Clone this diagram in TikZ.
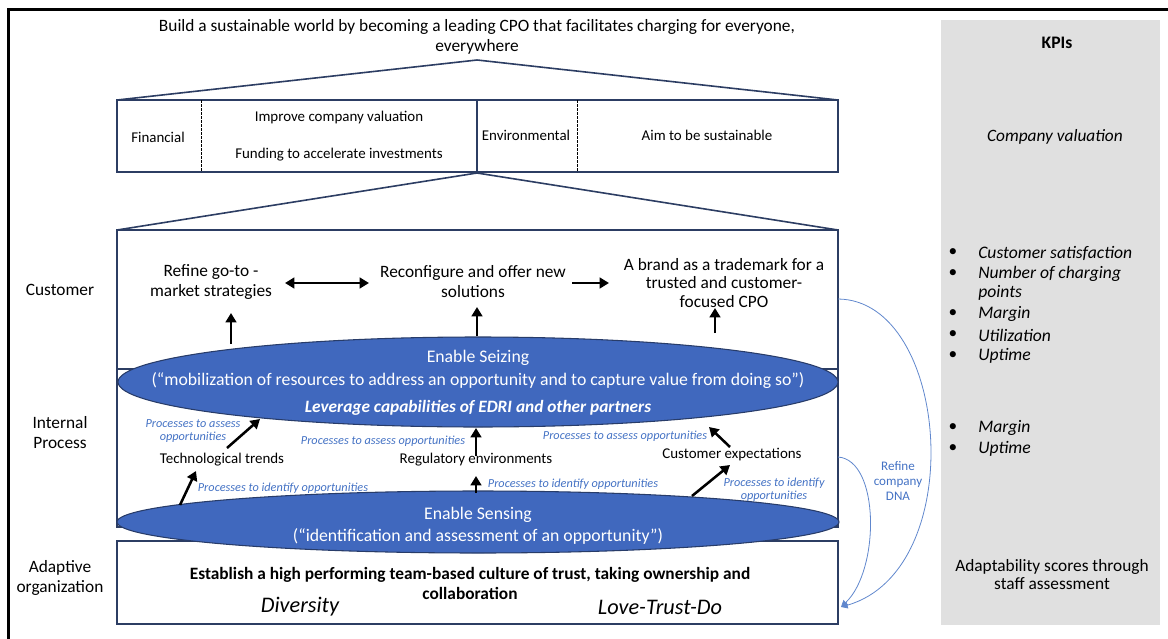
\documentclass[tikz,border=0pt]{standalone}
\usepackage{fontspec}
\setmainfont{Carlito}
\usetikzlibrary{shapes.geometric,arrows.meta}

\definecolor{navyline}{RGB}{44,61,99}
\definecolor{ovalblue}{RGB}{64,104,190}
\definecolor{ovaledge}{RGB}{40,60,105}
\definecolor{labelblue}{RGB}{68,114,196}
\definecolor{kpigray}{RGB}{224,224,224}

\begin{document}
\begin{tikzpicture}[x=0.75pt,y=0.75pt,yscale=-1,xscale=1,
  boxline/.style={draw=navyline, line width=1.2pt},
  oval/.style={ellipse, draw=ovaledge, line width=0.8pt, fill=ovalblue, inner sep=0pt},
  txt/.style={inner sep=0.75pt, align=center, font=\fontsize{13}{15}\selectfont},
  celltxt/.style={inner sep=0.75pt, align=center, font=\fontsize{11.2}{13}\selectfont},
  ovaltxt/.style={inner sep=0.75pt, align=center, text=white, font=\fontsize{13.3}{15}\selectfont},
  procnote/.style={inner sep=0.75pt, align=center, text=labelblue, font=\fontsize{9.2}{10}\selectfont\itshape},
  kpi/.style={inner sep=0.75pt, anchor=west, align=left, font=\fontsize{13.2}{14.3}\selectfont\itshape},
  bigarrow/.style={line width=1.9pt, -{Triangle[length=7pt,width=8pt]}},
  dnacurve/.style={draw=labelblue!85, line width=0.6pt, -{Triangle[length=5pt,width=5pt]}}
]
\useasboundingbox (0,0) rectangle (1168,639);

%Shape: Frame
\draw [line width=2.25pt] (8,640) -- (8,9) -- (1168,9) ;
%Shape: Rectangle KPI column
\fill [kpigray] (941,20) rectangle (1160,625) ;

% Text Node
\node (goal) at (477,37) [txt] {Build a sustainable world by becoming a leading CPO that facilitates charging for everyone,\\everywhere};

%Shape: Triangle roof top
\draw [boxline] (117,100) -- (477,60) -- (838,100) ;
%Shape: Rectangle financial / environmental
\draw [boxline] (117,100) rectangle (838,172) ;
\draw [dash pattern=on 2pt off 1pt, line width=0.5pt] (201,100) -- (201,172) ;
\draw [boxline] (477,100) -- (477,172) ;
\draw [dash pattern=on 2pt off 1pt, line width=0.5pt] (577,100) -- (577,172) ;

% Text Node
\node (financial) at (158,137) [celltxt] {Financial};
% Text Node
\node (valuation) at (339,118) [celltxt] {Improve company valuation};
% Text Node
\node (funding) at (339,155) [celltxt] {Funding to accelerate investments};
% Text Node
\node (environ) at (526,135) [celltxt] {Environmental};
% Text Node
\node (sustain) at (707,135) [celltxt] {Aim to be sustainable};

%Shape: Triangle roof bottom
\draw [boxline] (117,230) -- (477,173) -- (838,230) ;
%Shape: Rectangle customer
\draw [boxline] (117,230) rectangle (838,369) ;
%Shape: Rectangle internal process
\draw [boxline] (117,369) rectangle (838,527) ;
%Shape: Rectangle adaptive organization
\draw [boxline] (117,541) rectangle (838,624) ;

% Row labels
\node (lblcust) at (60,290) [txt] {Customer};
\node (lblproc) at (60,433) [txt] {Internal\\Process};
\node (lbladapt) at (60,578) [txt] {Adaptive\\organization};

% Text Node
\node (refine) at (211,282) [txt] {Refine go-to -\\market strategies};
% Text Node
\node (reconfig) at (473,282) [txt] {Reconfigure and offer new\\solutions};
% Text Node
\node (brand) at (724,283) [txt, font=\fontsize{13}{14}\selectfont] {A brand as a trademark for a\\trusted and customer-\\focused CPO};

\coordinate (dblL) at (285,283);
\coordinate (dblR) at (369,283);
\coordinate (toBrandL) at (572,283);
\coordinate (toBrandR) at (609,283);
\draw [bigarrow, {Triangle[length=7pt,width=8pt]}-{Triangle[length=7pt,width=8pt]}] (dblL) -- (dblR) ;
\draw [bigarrow] (toBrandL) -- (toBrandR) ;

%Shape: Ellipse seizing
\node (seize) at (478,382) [oval, minimum width=540pt, minimum height=67.5pt] {};
%Shape: Ellipse sensing
\node (sense) at (478,522) [oval, minimum width=541.5pt, minimum height=46.5pt] {};

\coordinate (upRefineA) at (231,344);
\coordinate (upRefineB) at (231,313);
\coordinate (upReconfA) at (477,336);
\coordinate (upReconfB) at (477,307);
\coordinate (upBrandA) at (715,333);
\coordinate (upBrandB) at (715,308);
\draw [bigarrow] (upRefineA) -- (upRefineB) ;
\draw [bigarrow] (upReconfA) -- (upReconfB) ;
\draw [bigarrow] (upBrandA) -- (upBrandB) ;

% Text Node
\node (seizeA) at (478,358) [ovaltxt] {Enable Seizing};
\node (seizeB) at (478,381) [ovaltxt] {(“mobilization of resources to address an opportunity and to capture value from doing so”)};
\node (seizeC) at (478,408) [ovaltxt, font=\fontsize{13}{15}\selectfont\bfseries\itshape] {Leverage capabilities of EDRI and other partners};
% Text Node
\node (senseA) at (478,515) [ovaltxt] {Enable Sensing};
\node (senseB) at (478,536) [ovaltxt] {(“identification and assessment of an opportunity”)};

% Text Node
\node (tech) at (222,460) [celltxt] {Technological trends};
\node (regul) at (476,460) [celltxt] {Regulatory environments};
\node (custexp) at (732,455) [celltxt] {Customer expectations};

% Process notes
\node (techAssess) at (193,431) [procnote] {Processes to assess\\opportunities};
\node (regulAssess) at (383,441) [procnote] {Processes to assess opportunities};
\node (custAssess) at (625,436) [procnote] {Processes to assess opportunities};
\node (techIdent) at (283,488) [procnote] {Processes to identify opportunities};
\node (regulIdent) at (573,484) [procnote] {Processes to identify opportunities};
\node (custIdent) at (774,490) [procnote] {Processes to identify\\opportunities};

\coordinate (techUpA) at (180,505);
\coordinate (techUpB) at (196,471);
\coordinate (techSeizeA) at (227,448);
\coordinate (techSeizeB) at (260,419);
\coordinate (regulUpA) at (476,493);
\coordinate (regulUpB) at (476,476);
\coordinate (regulSeizeA) at (476,456);
\coordinate (regulSeizeB) at (476,428);
\coordinate (custUpA) at (692,496);
\coordinate (custUpB) at (730,465);
\coordinate (custSeizeA) at (730,447);
\coordinate (custSeizeB) at (709,427);
\draw [bigarrow] (techUpA) -- (techUpB) ;
\draw [bigarrow] (techSeizeA) -- (techSeizeB) ;
\draw [bigarrow] (regulUpA) -- (regulUpB) ;
\draw [bigarrow] (regulSeizeA) -- (regulSeizeB) ;
\draw [bigarrow] (custUpA) -- (custUpB) ;
\draw [bigarrow] (custSeizeA) -- (custSeizeB) ;

% Text Node
\node (culture) at (470,583) [txt, font=\fontsize{13}{15}\selectfont\bfseries] {Establish a high performing team-based culture of trust, taking ownership and\\collaboration};
\node (diversity) at (300,607) [txt, font=\fontsize{16.7}{18}\selectfont\itshape] {Diversity};
\node (lovetrust) at (660,607) [txt, font=\fontsize{16.7}{18}\selectfont\itshape] {Love-Trust-Do};

%Shape: Curves refine company DNA
\coordinate (dnaFromCust) at (838,299);
\coordinate (dnaFromProc) at (838,457);
\coordinate (dnaIn) at (841,607);
\draw [dnacurve] (dnaFromCust) .. controls (950,300) and (970,570) .. (dnaIn) ;
\draw [dnacurve] (dnaFromProc) .. controls (880,460) and (880,570) .. (dnaIn) ;
\node (dna) at (898,481) [txt, text=labelblue, font=\fontsize{9.8}{11.5}\selectfont] {Refine\\company\\DNA};

% KPI column
\node (kpis) at (1057,43) [txt, font=\fontsize{13.2}{15}\selectfont\bfseries] {KPIs};
\node (valkpi) at (1055,137) [txt, font=\fontsize{13}{15}\selectfont\itshape] {Company valuation};

\node (b1) at (953,253) [txt] {•};
\node (k1) at (977,253) [kpi] {Customer satisfaction};
\node (b2) at (953,274) [txt] {•};
\node (k2) at (977,283.5) [kpi] {Number of charging\\points};
\node (b3) at (953,314) [txt] {•};
\node (k3) at (977,314) [kpi] {Margin};
\node (b4) at (953,335) [txt] {•};
\node (k4) at (977,335) [kpi] {Utilization};
\node (b5) at (953,356) [txt] {•};
\node (k5) at (977,356) [kpi] {Uptime};

\node (b6) at (953,428) [txt] {•};
\node (k6) at (977,428) [kpi] {Margin};
\node (b7) at (953,449) [txt] {•};
\node (k7) at (977,449) [kpi] {Uptime};

\node (adaptkpi) at (1052,575) [txt, font=\fontsize{13}{13.5}\selectfont] {Adaptability scores through\\staff assessment};

\end{tikzpicture}
\end{document}
